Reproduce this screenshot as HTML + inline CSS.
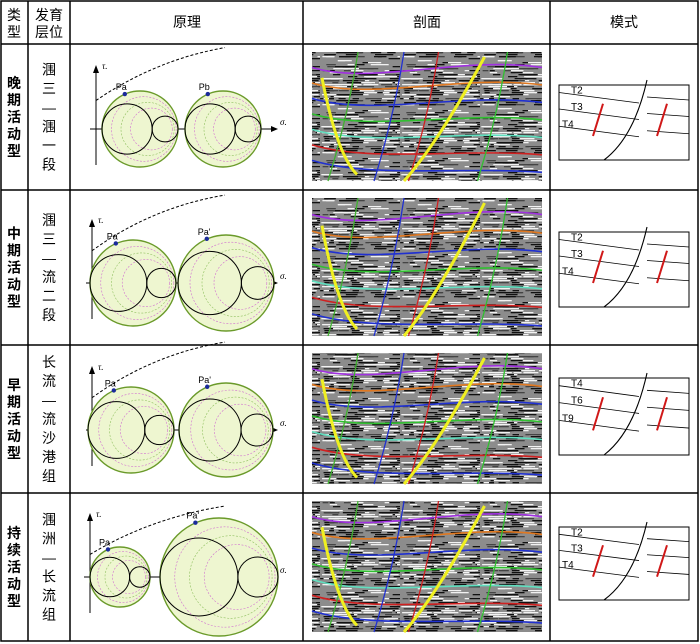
<!DOCTYPE html>
<html><head><meta charset="utf-8"><style>
body{margin:0;width:700px;height:644px;background:#fff;font-family:"Liberation Sans","Noto Sans CJK SC",sans-serif;overflow:hidden}
svg{position:absolute;left:0;top:0}
</style></head><body>
<svg id="s" width="700" height="644" xmlns="http://www.w3.org/2000/svg">
<defs>
<pattern id="seis" width="80" height="48" patternUnits="userSpaceOnUse"><g id="pat"></g></pattern>
</defs>
<g id="grid" stroke="#000" stroke-width="1.5" fill="none">
<rect x="1" y="1" width="697" height="640"/>
<line x1="28" y1="1" x2="28" y2="641"/><line x1="70" y1="1" x2="70" y2="641"/>
<line x1="303" y1="1" x2="303" y2="641"/><line x1="550" y1="1" x2="550" y2="641"/>
<line x1="1" y1="44" x2="698" y2="44"/><line x1="1" y1="190" x2="698" y2="190"/>
<line x1="1" y1="345" x2="698" y2="345"/><line x1="1" y1="493" x2="698" y2="493"/>
</g>
<g font-size="14" text-anchor="middle" fill="#000">
<text x="14" y="20">类</text><text x="14" y="37">型</text>
<text x="49" y="20">发育</text><text x="49" y="37">层位</text>
<text x="187" y="27">原理</text>
<text x="427" y="27">剖面</text>
<text x="624" y="27">模式</text>
</g>
<g id="cells"></g>
</svg>
<script>
const S=document.getElementById('cells');const NS='http://www.w3.org/2000/svg';
function mk(t,a,p){const e=document.createElementNS(NS,t);for(const k in a)e.setAttribute(k,a[k]);(p||S).appendChild(e);return e;}
// seismic texture
let seed=7;function rnd(){seed=(seed*16807)%2147483647;return seed/2147483647;}
const P=document.getElementById('pat');
mk('rect',{width:80,height:48,fill:'#8c8c8c'},P);
for(let i=0;i<150;i++){const y=Math.floor(rnd()*24)*2;const x=rnd()*80;const w=4+rnd()*16;const d=rnd();
 mk('rect',{x:x,y:y,width:w,height:1.3,fill:d<0.5?'#111':(d<0.8?'#f2f2f2':'#444')},P);}
const rows=[
 {y0:44,y1:190,type:'晚期活动型',layer:['涠','三','—','涠','一','段'],axis:129,circ:[[140,38,'Pa'],[223,38,'Pb']],box:[559,85,689,160],ax0:96},
 {y0:190,y1:345,type:'中期活动型',layer:['涠','三','—','流','二','段'],axis:283,circ:[[133,43,'Pa'],[226,48,"Pa'"]],box:[559,232,689,307],ax0:92},
 {y0:345,y1:493,type:'早期活动型',layer:['长','流','—','流','沙','港','组'],axis:430,circ:[[131,43,'Pa'],[226,47,"Pa'"]],box:[559,378,689,455],ax0:92},
 {y0:493,y1:641,type:'持续活动型',layer:['涠','洲','—','长','流','组'],axis:577,circ:[[120,30,'Pa'],[219,59,"Pa'"]],box:[559,527,689,600],ax0:90}
];
rows.forEach((r,i)=>{
 const g=mk('g',{});
 const n=r.type.length,cy=(r.y0+r.y1)/2;
 [...r.type].forEach((c,j)=>{const t=mk('text',{x:14,y:cy-(n-1)*8.5+j*17+5,'font-size':14,'text-anchor':'middle','font-weight':'bold'},g);t.textContent=c;});
 const m=r.layer.length;
 r.layer.forEach((c,j)=>{const t=mk('text',{x:49,y:cy-(m-1)*9.5+j*19+5,'font-size':14,'text-anchor':'middle'},g);t.textContent=c;});
 const mg=mk('g',{},g);
 const A=r.axis;
 mk('line',{x1:r.ax0,y1:A+36,x2:r.ax0,y2:A-60,stroke:'#000','stroke-width':1},mg);
 mk('path',{d:`M${r.ax0-3},${A-56}L${r.ax0},${A-64}L${r.ax0+3},${A-56}Z`},mg);
 mk('line',{x1:r.ax0-6,y1:A,x2:275,y2:A,stroke:'#000','stroke-width':1},mg);
 mk('path',{d:`M271,${A-3}L278,${A}L271,${A+3}Z`},mg);
 let t=mk('text',{x:r.ax0+6,y:A-60,'font-size':9,'font-style':'italic','font-family':'Liberation Serif,serif'},mg);t.textContent='τ.';
 t=mk('text',{x:280,y:A-4,'font-size':9,'font-style':'italic','font-family':'Liberation Serif,serif'},mg);t.textContent='σ.';
 r.circ.forEach(([cx,R,lab])=>{
  mk('circle',{cx,cy:A,r:R,fill:'#eef6d0',stroke:'#6a9a2a','stroke-width':1.4},mg);
  for(let k=1;k<4;k++){mk('circle',{cx:cx+R*0.1*k,cy:A,r:R*(1-0.15*k),fill:'none',stroke:k%2?'#d070d0':'#90c060','stroke-width':.6,'stroke-dasharray':'2,1.5'},mg);}
  const r1=R*0.66,r2=R-r1;
  mk('circle',{cx:cx-R+r1,cy:A,r:r1,fill:'none',stroke:'#000','stroke-width':1},mg);
  mk('circle',{cx:cx+R-r2,cy:A,r:r2,fill:'none',stroke:'#000','stroke-width':1},mg);
  const px=cx-R*0.4,py=A-R*0.92;
  mk('circle',{cx:px,cy:py,r:2.2,fill:'#1a2a9a'},mg);
  const tl=mk('text',{x:px-9,y:py-4,'font-size':9},mg);tl.textContent=lab;
 });
 const c0=r.circ[0];
 mk('path',{d:`M${r.ax0},${A-c0[1]*0.75} Q${r.ax0+60},${A-c0[1]*1.3-20} 225,${A-c0[1]*1.3-32}`,fill:'none',stroke:'#000','stroke-width':1,'stroke-dasharray':'3,2'},mg);
 const sg=mk('g',{},g);
 const sx=312,sy=r.y0+8,sw=230,sh=r.y1-r.y0-17;
 mk('rect',{x:sx,y:sy,width:sw,height:sh,fill:'url(#seis)'},sg);
 const cols=['#a030e0','#e07820','#2030d0','#30c030','#60e0c0','#d02020','#2030d0'];
 cols.forEach((c,k)=>{const yy=sy+sh*(0.12+k*0.12);mk('path',{d:`M${sx},${yy} C${sx+60},${yy+18} ${sx+150},${yy-12+k*3} ${sx+sw},${yy+k*2}`,fill:'none',stroke:c,'stroke-width':1.6},sg);});
 [['#40b030',0.2],['#d02020',0.55],['#30c030',0.85],['#2030d0',0.4]].forEach(([c,f])=>{const xx=sx+sw*f;mk('path',{d:`M${xx},${sy} Q${xx-10},${sy+sh/2} ${xx-30},${sy+sh}`,fill:'none',stroke:c,'stroke-width':1.3},sg);});
 mk('path',{d:`M${sx+10},${sy+sh*0.2} Q${sx+25},${sy+sh*0.8} ${sx+45},${sy+sh*0.95}`,fill:'none',stroke:'#f0f020','stroke-width':3},sg);
 mk('path',{d:`M${sx+sw*0.75},${sy+5} Q${sx+sw*0.55},${sy+sh*0.7} ${sx+sw*0.4},${sy+sh}`,fill:'none',stroke:'#f0f020','stroke-width':3},sg);
 const [bx0,by0,bx1,by1]=r.box,bg=mk('g',{},g);
 mk('rect',{x:bx0,y:by0,width:bx1-bx0,height:by1-by0,fill:'#fff',stroke:'#000','stroke-width':1},bg);
 const H=by1-by0,labs=i==2?['T4','T6','T9']:['T2','T3','T4'];
 [0.1,0.32,0.55].forEach((f,k)=>{const y=by0+H*f;
  mk('path',{d:`M${bx0},${y} L${bx0+80},${y+H*0.14} M${bx0+88},${y+H*0.06} L${bx1},${y+H*0.1}`,fill:'none',stroke:'#000','stroke-width':.8},bg);
  const tx=mk('text',{x:bx0+(k==2?3:12),y:y+1,'font-size':10},bg);tx.textContent=labs[k];});
 mk('path',{d:`M${bx0+88},${by0-5} Q${bx0+75},${by0+H*0.7} ${bx0+45},${by1}`,fill:'none',stroke:'#000','stroke-width':1.1},bg);
 [[bx0+42,0.4],[bx0+106,0.4]].forEach(([x,f])=>mk('line',{x1:x+2,y1:by0+H*0.25,x2:x-8,y2:by0+H*0.68,stroke:'#d01818','stroke-width':2},bg));
});
</script>
</body></html>
